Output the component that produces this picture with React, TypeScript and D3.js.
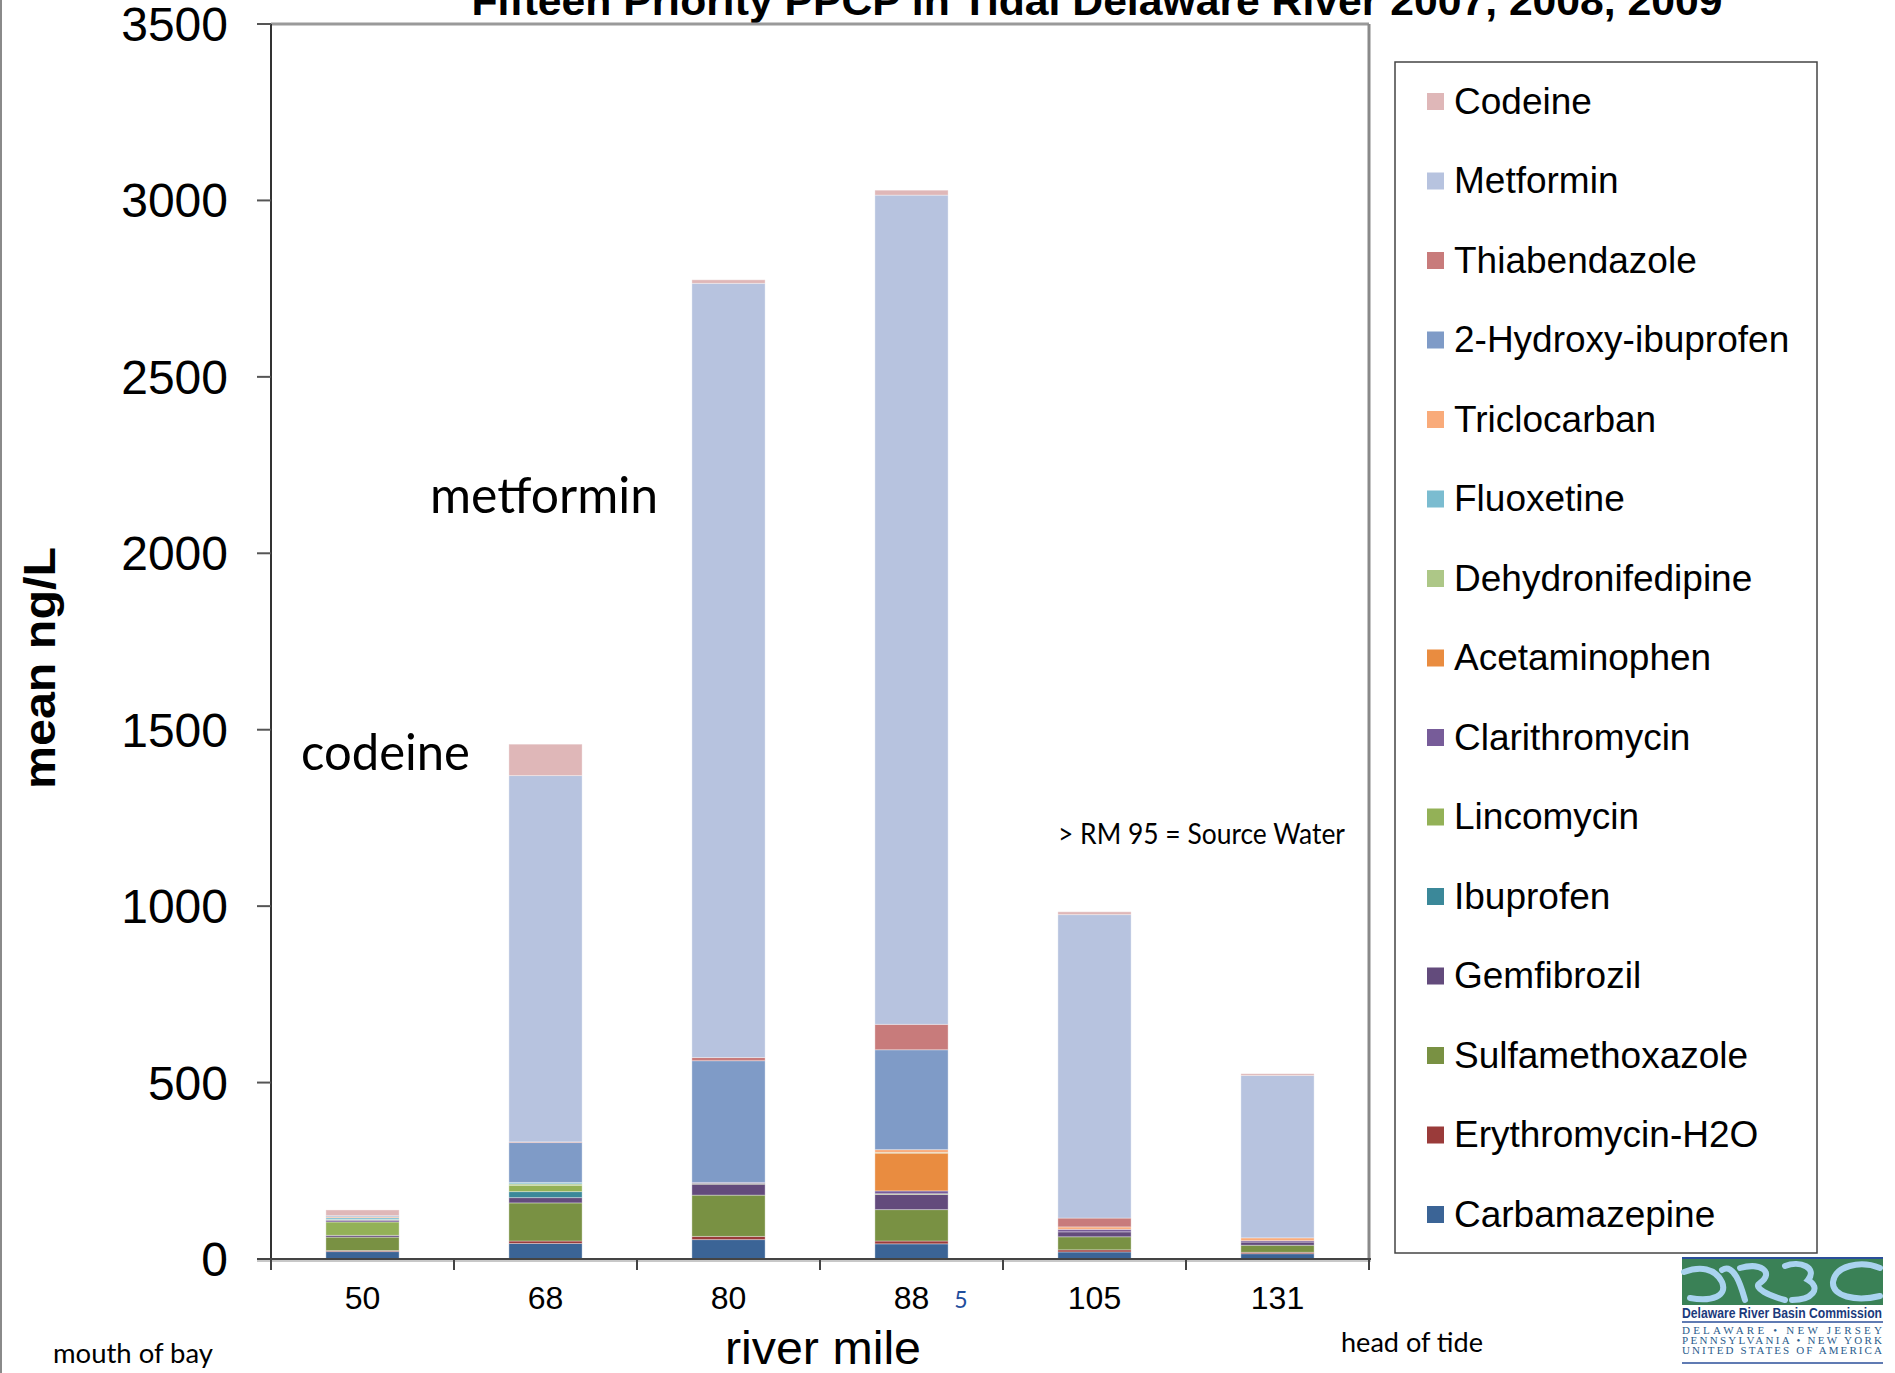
import React from "react";
import * as d3 from "d3";

const categories = ["50", "68", "80", "88", "105", "131"];

// stack order, bottom to top
const seriesNames = [
  "Carbamazepine",
  "Erythromycin-H2O",
  "Sulfamethoxazole",
  "Gemfibrozil",
  "Ibuprofen",
  "Lincomycin",
  "Clarithromycin",
  "Acetaminophen",
  "Dehydronifedipine",
  "Fluoxetine",
  "Triclocarban",
  "2-Hydroxy-ibuprofen",
  "Thiabendazole",
  "Metformin",
  "Codeine",
];

const seriesColors = [
  "#3b6496",
  "#9a3b3a",
  "#799143",
  "#634b7c",
  "#3b8899",
  "#93b157",
  "#775c99",
  "#e98c40",
  "#adc787",
  "#7bbcd0",
  "#f9ab7a",
  "#7f9bc7",
  "#c87b7b",
  "#b7c3df",
  "#dfb7b8",
];

const carbamazepine = [21, 44, 55, 43, 20, 15];
const erythromycinH2O = [3, 7, 9, 8, 6, 4];
const sulfamethoxazole = [38, 108, 117, 89, 37, 20];
const gemfibrozil = [5, 15, 31, 43, 14, 9];
const ibuprofen = [0, 17, 0, 0, 0, 0];
const lincomycin = [38, 18, 2, 2, 0, 0];
const clarithromycin = [5, 0, 3, 8, 7, 4];
const acetaminophen = [0, 0, 0, 107, 0, 0];
const dehydronifedipine = [2, 4, 0, 2, 0, 0];
const fluoxetine = [5, 4, 0, 0, 0, 0];
const triclocarban = [3, 0, 0, 8, 7, 8];
const hydroxyIbuprofen = [3, 113, 345, 283, 0, 0];
const thiabendazole = [0, 2, 9, 72, 25, 0];
const metformin = [0, 1038, 2194, 2350, 860, 460];
const codeine = [16, 89, 10, 14, 8, 5];

const seriesValues = [
  carbamazepine,
  erythromycinH2O,
  sulfamethoxazole,
  gemfibrozil,
  ibuprofen,
  lincomycin,
  clarithromycin,
  acetaminophen,
  dehydronifedipine,
  fluoxetine,
  triclocarban,
  hydroxyIbuprofen,
  thiabendazole,
  metformin,
  codeine,
];

const yTicks = [0, 500, 1000, 1500, 2000, 2500, 3000, 3500];

const W = 1895;
const H = 1373;
const PL = 271;
const PR = 1369;
const PT = 24;
const PB = 1259;

export default function App() {
  const rows = categories.map((c, i) => {
    const r: any = { cat: c };
    seriesNames.forEach((s, k) => (r[s] = seriesValues[k][i]));
    return r;
  });
  const stacked = d3.stack().keys(seriesNames)(rows);

  const x = d3
    .scaleBand()
    .domain(categories)
    .range([PL, PR])
    .paddingInner(0.6)
    .paddingOuter(0.3);
  const y = d3.scaleLinear().domain([0, 3500]).range([PB, PT]);
  const step = x.step();
  const boundaries = d3.range(categories.length + 1).map((i) => PL + i * step);

  const legendOrder = seriesNames.map((n, i) => i).reverse();
  const arial = "Liberation Sans, Arial, sans-serif";
  const calibri = "Lato, Carlito, Calibri, sans-serif";

  return (
    <svg
      width={W}
      height={H}
      style={{ position: "absolute", left: 0, top: 0, background: "#fff" }}
      xmlns="http://www.w3.org/2000/svg"
    >
      <rect x={0} y={0} width={W} height={H} fill="#ffffff" />
      {/* page left border */}
      <line x1={1} y1={0} x2={1} y2={H} stroke="#8a8a8a" strokeWidth={2} />

      {/* title (clipped at top, as in the original slide) */}
      <text
        x={1097}
        y={15}
        textAnchor="middle"
        fontFamily="Liberation Sans Narrow, Arial Narrow, Liberation Sans, Arial, sans-serif"
        fontWeight="bold"
        fontSize={40}
        textLength={1251}
        lengthAdjust="spacingAndGlyphs"
        fill="#000"
      >
        Fifteen Priority PPCP in Tidal Delaware River 2007, 2008, 2009
      </text>

      {/* plot frame */}
      <line x1={PL} y1={PT} x2={PR} y2={PT} stroke="#9a9a9a" strokeWidth={3} />
      <line x1={PR} y1={PT} x2={PR} y2={PB} stroke="#8a8a8a" strokeWidth={3} />

      {/* bars */}
      {stacked.map((layer, k) => (
        <g key={seriesNames[k]}>
          {layer.map((d: any, i: number) => {
            const h = y(d[0]) - y(d[1]);
            if (h <= 0) return null;
            return (
              <rect
                key={i}
                x={x(categories[i])}
                y={y(d[1])}
                width={x.bandwidth()}
                height={h}
                fill={seriesColors[k]}
                stroke="#ffffff"
                strokeOpacity={0.35}
                strokeWidth={1}
              />
            );
          })}
        </g>
      ))}

      {/* y axis */}
      <line x1={PL} y1={PT} x2={PL} y2={PB} stroke="#333" strokeWidth={2} />
      {yTicks.map((t) => (
        <g key={t}>
          <line x1={PL - 14} y1={y(t)} x2={PL} y2={y(t)} stroke="#555" strokeWidth={2} />
          <text
            x={228}
            y={y(t) + 17}
            textAnchor="end"
            fontFamily={arial}
            fontSize={48}
            fill="#000"
          >
            {t}
          </text>
        </g>
      ))}

      {/* x axis */}
      <line x1={PL - 14} y1={PB + 2} x2={PR + 2} y2={PB + 2} stroke="#c8c8c8" strokeWidth={2} />
      <line x1={PL - 14} y1={PB} x2={PR + 2} y2={PB} stroke="#444" strokeWidth={2} />
      {boundaries.map((b, i) => (
        <line key={i} x1={b} y1={PB} x2={b} y2={PB + 11} stroke="#444" strokeWidth={2} />
      ))}
      {categories.map((c) => (
        <text
          key={c}
          x={(x(c) as number) + x.bandwidth() / 2}
          y={1309}
          textAnchor="middle"
          fontFamily={arial}
          fontSize={32}
          fill="#000"
        >
          {c}
        </text>
      ))}
      <text x={961} y={1308} textAnchor="middle" fontFamily={calibri} fontSize={23} fill="#1f4e9c">
        5
      </text>

      {/* axis titles */}
      <text
        transform="translate(55,668) rotate(-90)"
        textAnchor="middle"
        fontFamily={arial}
        fontWeight="bold"
        fontSize={45}
        textLength={242}
        lengthAdjust="spacingAndGlyphs"
        fill="#000"
      >
        mean ng/L
      </text>
      <text
        x={823}
        y={1364}
        textAnchor="middle"
        fontFamily={arial}
        fontSize={46}
        textLength={196}
        lengthAdjust="spacingAndGlyphs"
        fill="#000"
      >
        river mile
      </text>
      <text x={53} y={1363} fontFamily={calibri} fontSize={26} textLength={160} lengthAdjust="spacingAndGlyphs" fill="#000">
        mouth of bay
      </text>
      <text x={1341} y={1352} fontFamily={calibri} fontSize={26} textLength={142} lengthAdjust="spacingAndGlyphs" fill="#000">
        head of tide
      </text>

      {/* annotations */}
      <text x={430} y={513} fontFamily={calibri} fontSize={50} textLength={228} lengthAdjust="spacingAndGlyphs" fill="#000">
        metformin
      </text>
      <text x={301} y={770} fontFamily={calibri} fontSize={50} textLength={169} lengthAdjust="spacingAndGlyphs" fill="#000">
        codeine
      </text>
      <text x={1058} y={844} fontFamily={calibri} fontSize={28} textLength={287} lengthAdjust="spacingAndGlyphs" fill="#000">
        {"> RM 95 = Source Water"}
      </text>

      {/* legend */}
      <rect x={1395} y={62} width={422} height={1191} fill="#fff" stroke="#444" strokeWidth={1.5} />
      {legendOrder.map((k, j) => {
        const cy = 101.5 + j * 79.5;
        return (
          <g key={seriesNames[k]}>
            <rect x={1427} y={cy - 8.5} width={17} height={17} fill={seriesColors[k]} />
            <text x={1454} y={cy + 12} fontFamily={arial} fontSize={37} fill="#000">
              {seriesNames[k]}
            </text>
          </g>
        );
      })}

      {/* DRBC logo */}
      <g>
        <line x1={1682} y1={1258} x2={1883} y2={1258} stroke="#2b4f9a" strokeWidth={2} />
        <rect x={1682} y={1259} width={201} height={46} fill="#3a8156" />
        <g fill="none" stroke="#a9d3ef" strokeWidth={6} strokeLinecap="round">
          <path d="M1684 1272 C1700 1266, 1715 1268, 1722 1282 C1728 1296, 1712 1302, 1690 1298" />
          <path d="M1722 1270 C1735 1262, 1742 1290, 1745 1300" />
          <path d="M1740 1268 C1760 1262, 1775 1272, 1760 1283 C1752 1288, 1770 1296, 1785 1300" />
          <path d="M1785 1266 C1800 1260, 1818 1268, 1808 1280 C1822 1288, 1812 1300, 1792 1300" />
          <path d="M1880 1268 C1860 1260, 1835 1266, 1833 1282 C1832 1296, 1855 1302, 1880 1296" />
        </g>
        <text
          x={1682}
          y={1318}
          fontFamily="Liberation Sans Narrow, Arial Narrow, Liberation Sans, Arial, sans-serif"
          fontWeight="bold"
          fontSize={14}
          textLength={200}
          lengthAdjust="spacingAndGlyphs"
          fill="#1b3a7c"
        >
          Delaware River Basin Commission
        </text>
        <line x1={1682} y1={1322} x2={1883} y2={1322} stroke="#2b4f9a" strokeWidth={1.5} />
        <text x={1682} y={1334} fontFamily="Liberation Serif, serif" fontSize={11} textLength={200} lengthAdjust="spacing" fill="#2a5c8c">
          DELAWARE   •   NEW JERSEY
        </text>
        <text x={1682} y={1344} fontFamily="Liberation Serif, serif" fontSize={11} textLength={200} lengthAdjust="spacing" fill="#2a5c8c">
          PENNSYLVANIA • NEW YORK
        </text>
        <text x={1682} y={1354} fontFamily="Liberation Serif, serif" fontSize={11} textLength={200} lengthAdjust="spacing" fill="#2a5c8c">
          UNITED STATES OF AMERICA
        </text>
        <line x1={1682} y1={1363} x2={1883} y2={1363} stroke="#2b4f9a" strokeWidth={1.5} />
      </g>
    </svg>
  );
}
